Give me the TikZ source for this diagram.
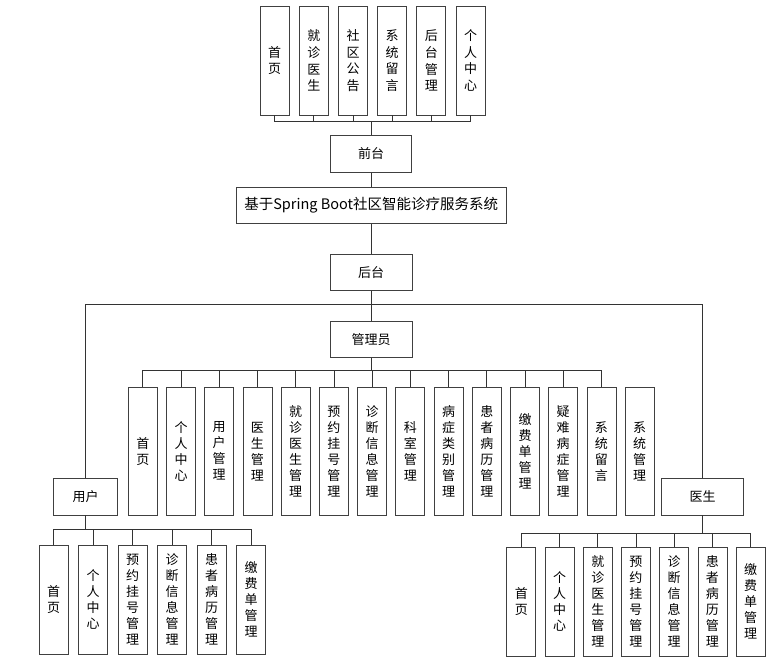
\documentclass[tikz,border=0pt]{standalone}
\usepackage{fontspec}
\setmainfont{Noto Sans CJK SC}
\begin{document}
\begin{tikzpicture}[x=1pt, y=-1pt,
    box/.style={draw=black!75, line width=0.8pt, inner sep=0pt, align=center, font=\fontsize{13}{16}\selectfont},
    col/.style={box, minimum width=29pt},
    wide/.style={box, minimum height=36.5pt},
    link/.style={draw=black!80, line width=0.8pt}]
            \useasboundingbox ( 0, 0 ) rectangle ( 780, 667 );

            % главные узлы
            \node [wide, minimum width=81pt] (front) at ( 371.2, 154 ) {前台};
            \node [wide, minimum width=270pt, font=\fontsize{14.5}{16}\selectfont] (sys) at ( 371.2, 205.5 ) {基于Spring Boot社区智能诊疗服务系统};
            \node [wide, minimum width=82pt] (back) at ( 371.2, 272.3 ) {后台};
            \node [wide, minimum width=82pt] (admin) at ( 371.2, 339.2 ) {管理员};
            \node [wide, minimum width=64pt] (user) at ( 85.5, 496.7 ) {用户};
            \node [wide, minimum width=82pt] (doctor) at ( 702.7, 496.7 ) {医生};

            % шины
            \coordinate (topbus) at ( 371.2, 121.7 );
            \coordinate (split) at ( 371.2, 304.3 );
            \coordinate (admbus) at ( 371.2, 370.7 );
            \coordinate (usrbus) at ( 85.5, 529 );
            \coordinate (docbus) at ( 702.7, 533.3 );

            % передняя часть
            \foreach \t [count=\i from 0] in {{首\\页},{就\\诊\\医\\生},{社\\区\\公\\告},{系\\统\\留\\言},{后\\台\\管\\理},{个\\人\\中\\心}}
                \node [col, minimum height=109pt, font=\fontsize{13}{16.8}\selectfont] (top\i) at ( {274.7+39.16*\i}, 60.5 ) {\t};

            % администратор
            \foreach \t [count=\i from 0] in {{首\\页},{个\\人\\中\\心},{用\\户\\管\\理},{医\\生\\管\\理},{就\\诊\\医\\生\\管\\理},{预\\约\\挂\\号\\管\\理},{诊\\断\\信\\息\\管\\理},{科\\室\\管\\理},{病\\症\\类\\别\\管\\理},{患\\者\\病\\历\\管\\理},{缴\\费\\单\\管\\理},{疑\\难\\病\\症\\管\\理},{系\\统\\留\\言},{系\\统\\管\\理}}
                \node [col, minimum height=127.7pt] (adm\i) at ( {142.8+38.22*\i}, 451.2 ) {\t};

            % пользователь
            \foreach \t [count=\i from 0] in {{首\\页},{个\\人\\中\\心},{预\\约\\挂\\号\\管\\理},{诊\\断\\信\\息\\管\\理},{患\\者\\病\\历\\管\\理},{缴\\费\\单\\管\\理}}
                \node [col, minimum height=109pt] (usr\i) at ( {53.7+39.46*\i}, 599.8 ) {\t};

            % врач
            \foreach \t [count=\i from 0] in {{首\\页},{个\\人\\中\\心},{就\\诊\\医\\生\\管\\理},{预\\约\\挂\\号\\管\\理},{诊\\断\\信\\息\\管\\理},{患\\者\\病\\历\\管\\理},{缴\\费\\单\\管\\理}}
                \node [col, minimum height=108.7pt] (doc\i) at ( {521.3+38.23*\i}, 601.7 ) {\t};

            % связи
            \draw [link] (front) -- (sys);
            \draw [link] (sys) -- (back);
            \draw [link] (back) -- (admin);
            \draw [link] (user) |- (split) -| (doctor);
            \draw [link] (topbus) -- (front);
            \draw [link] (admin) -- (admbus);
            \draw [link] (user) -- (usrbus);
            \draw [link] (doctor) -- (docbus);
            \foreach \i in {0,...,5} \draw [link] (top\i.south) |- (topbus);
            \foreach \i in {0,...,12} \draw [link] (adm\i.north) |- (admbus);
            \foreach \i in {0,...,5} \draw [link] (usr\i.north) |- (usrbus);
            \foreach \i in {0,...,6} \draw [link] (doc\i.north) |- (docbus);
        \end{tikzpicture}
\end{document}
